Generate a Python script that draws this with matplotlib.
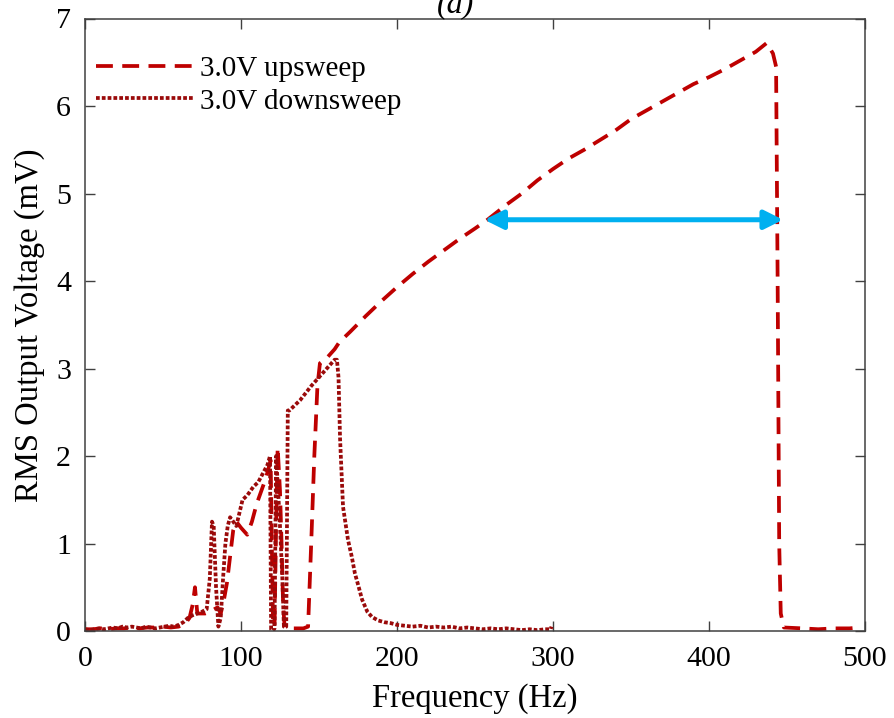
import numpy as np
import matplotlib
matplotlib.use('Agg')
import matplotlib.pyplot as plt

# frequency sweep data (Hz, mV)
f_up = [0, 5, 10, 15, 20, 25, 30, 35, 40, 45, 50, 55, 60, 64, 67, 69, 70.5, 72, 74, 77,
        80, 83, 85, 87, 89, 91, 93, 95, 97, 100, 104, 107, 110, 113, 116, 119, 120.5,
        121.5, 122.5, 123.5, 125, 126, 127, 128, 132, 136, 140, 143, 145, 147, 149, 150.6,
        155, 160, 163, 170, 180, 190, 200, 210, 220, 230, 240, 250, 258, 270, 280, 290,
        300, 310, 320, 330, 340, 350, 360, 370, 380, 390, 400, 410, 420, 430, 437, 441,
        443, 444, 445, 446, 448, 460, 470, 480, 490, 497]
v_up = [0.02, 0.02, 0.03, 0.02, 0.03, 0.03, 0.04, 0.03, 0.04, 0.04, 0.05, 0.04, 0.05, 0.08,
        0.15, 0.3, 0.5, 0.2, 0.2, 0.2, 0.22, 0.25, 0.27, 0.2, 0.35, 0.55, 0.85, 1.15, 1.25,
        1.18, 1.1, 1.25, 1.45, 1.6, 1.75, 1.95, 0.1, 0.05, 1.2, 2.1, 1.6, 1.0, 0.3, 0.04,
        0.03, 0.03, 0.03, 0.05, 1.0, 2.0, 2.8, 3.06, 3.12, 3.22, 3.3, 3.42, 3.6, 3.77, 3.93,
        4.08, 4.22, 4.35, 4.48, 4.6, 4.7, 4.87, 5.0, 5.15, 5.28, 5.4, 5.5, 5.61, 5.72, 5.85,
        5.95, 6.05, 6.15, 6.25, 6.33, 6.42, 6.52, 6.62, 6.72, 6.6, 6.45, 4.0, 1.0, 0.2, 0.04,
        0.03, 0.02, 0.03, 0.03, 0.04]

f_dn = [0, 3, 6, 9, 12, 15, 18, 21, 24, 27, 30, 33, 36, 39, 42, 45, 48, 51, 54, 57, 60, 63,
        66, 69, 72, 75, 78, 80, 81.4, 82.5, 84, 85.5, 87, 88.5, 90, 91.5, 93, 95, 97, 99,
        101, 104, 108, 111, 114, 117, 118.6, 119.3, 120.5, 121.5, 122.5, 123.5, 125, 126.5,
        127.5, 129, 130, 131, 138, 145, 150, 155, 160, 161.5, 162.5, 163.5, 165.4, 168.6,
        171, 173, 175.5, 177.6, 181, 184, 188, 192, 196, 200, 205, 210, 215, 220, 225, 230,
        235, 240, 245, 250, 255, 260, 265, 270, 275, 280, 285, 290, 295, 298.5, 299]
v_dn = [0.02, 0.01, 0.02, 0.03, 0.02, 0.03, 0.04, 0.03, 0.05, 0.04, 0.05, 0.04, 0.03, 0.05,
        0.04, 0.03, 0.04, 0.05, 0.06, 0.05, 0.07, 0.1, 0.15, 0.18, 0.2, 0.22, 0.25, 0.6, 1.25,
        1.2, 0.5, 0.05, 0.15, 0.6, 1.0, 1.2, 1.3, 1.25, 1.2, 1.35, 1.5, 1.55, 1.65, 1.7, 1.8,
        1.9, 2.0, 0.02, 0.0, 0.03, 2.0, 1.7, 1.2, 0.6, 0.05, 0.05, 2.52, 2.52, 2.64, 2.8, 2.9,
        3.0, 3.1, 3.1, 2.9, 2.2, 1.42, 1.04, 0.85, 0.66, 0.5, 0.36, 0.22, 0.16, 0.12, 0.1,
        0.09, 0.07, 0.06, 0.05, 0.06, 0.04, 0.05, 0.04, 0.05, 0.03, 0.04, 0.03, 0.02, 0.03,
        0.02, 0.03, 0.02, 0.01, 0.02, 0.01, 0.02, 0.02, 0.05]

# blue double arrow (Hz, mV)
arrow_f = [256, 447.5]
arrow_v = 4.7

plt.rcParams['font.family'] = ['Liberation Serif', 'DejaVu Serif']

fig = plt.figure(figsize=(8.95, 7.18), dpi=100)
ax = fig.add_axes([85 / 895, 1 - 631 / 718, 780 / 895, 612.5 / 718])

ax.plot(f_up, v_up, color='#BE0000', lw=2.7, dashes=(4.5, 2.5), label='3.0V upsweep')
ax.plot(f_dn, v_dn, color='#9A0A0A', lw=2.7, dashes=(1.0, 0.55), label='3.0V downsweep')

ax.annotate('', xy=(arrow_f[1], arrow_v), xytext=(arrow_f[0], arrow_v),
            arrowprops=dict(arrowstyle='<|-|>', color='#00B0F0', lw=3.6,
                            mutation_scale=28, shrinkA=0, shrinkB=0))

ax.set_xlim(0, 500)
ax.set_ylim(0, 7)
ax.set_xticks(np.arange(0, 501, 100))
ax.set_yticks(np.arange(0, 8, 1))
ax.tick_params(direction='in', top=True, right=True, length=7, width=1,
               labelsize=21.5, color='#404040')
ax.tick_params(axis='x', pad=11)
ax.tick_params(axis='y', pad=10)
for s in ax.spines.values():
    s.set_color('#404040')
    s.set_linewidth(1.1)

ax.set_xlabel('Frequency (Hz)', fontsize=23.5, labelpad=8)
ax.set_ylabel('RMS Output Voltage (mV)', fontsize=23.5, labelpad=8)

leg = ax.legend(loc='upper left', bbox_to_anchor=(-12 / 780, 0.978), frameon=False,
                fontsize=21, handlelength=3.3, handletextpad=0.25, labelspacing=0.22,
                borderpad=0.3)

# panel tag, partly cut by the top edge as in the source figure
fig.text(456 / 895, 1 - 12 / 718, '(a)', ha='center', va='baseline', fontsize=23, style='italic')

fig.savefig('out.png', dpi=100)
